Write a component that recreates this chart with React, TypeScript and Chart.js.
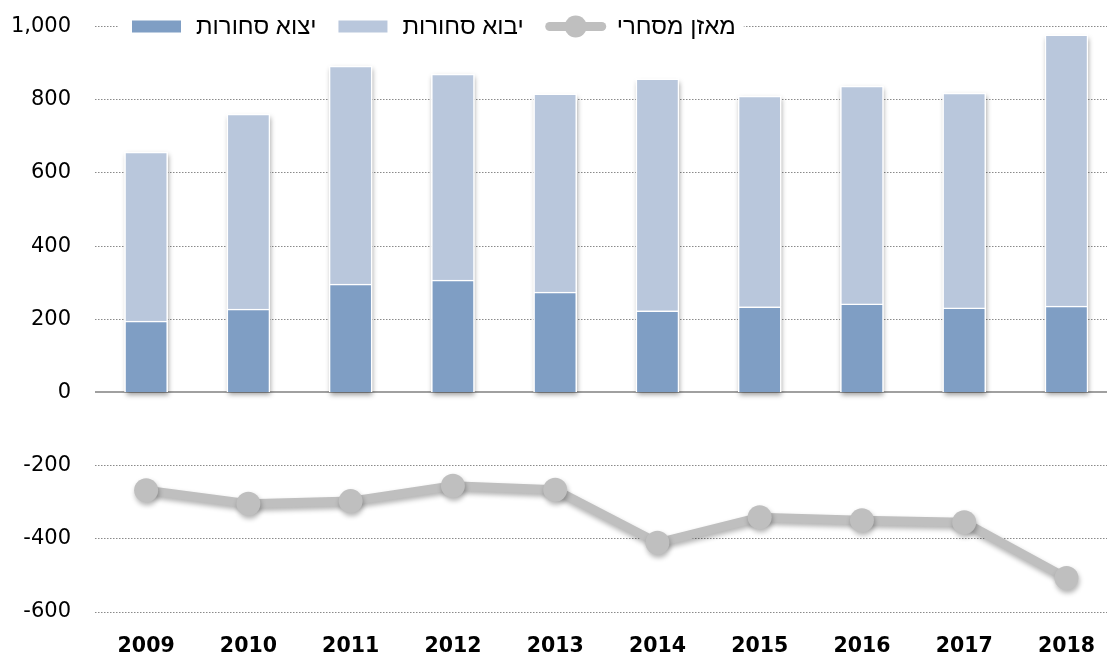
import React, { useEffect, useRef } from 'react';
import { Chart, registerables } from 'chart.js';

Chart.register(...registerables);

const years = ['2009', '2010', '2011', '2012', '2013', '2014', '2015', '2016', '2017', '2018'];
const exportsData = [195, 228, 296, 307, 274, 223, 234, 242, 231, 236];
const importsData = [462, 533, 596, 563, 542, 634, 576, 595, 587, 741];
const balanceData = [-267, -304, -297, -255, -266, -411, -341, -349, -355, -507];
const seriesLabels = ['יצוא סחורות', 'יבוא סחורות', 'מאזן מסחרי'];
const yMin = -600;
const yMax = 1000;
const yStep = 200;

const COL_EXPORT = '#7f9ec4';
const COL_IMPORT = '#b9c7dc';
const COL_BAL = '#bfbfbf';
const GRID = '#8a8a8a';
const FONT = '"DejaVu Sans", sans-serif';
const LEGEND_FONT = '"Liberation Sans", Arial, sans-serif';

const shadowPlugin = {
  id: 'barShadow',
  beforeDatasetsDraw(chart: any) {
    const ctx = chart.ctx;
    const y = chart.scales.y;
    ctx.save();
    ctx.strokeStyle = '#a0a0a0';
    ctx.lineWidth = 2;
    const y0 = Math.round(y.getPixelForValue(0));
    ctx.beginPath();
    ctx.moveTo(chart.chartArea.left, y0);
    ctx.lineTo(chart.chartArea.right, y0);
    ctx.stroke();
    ctx.restore();
    const mExp = chart.getDatasetMeta(0);
    const mImp = chart.getDatasetMeta(1);
    ctx.save();
    ctx.shadowColor = 'rgba(0,0,0,0.38)';
    ctx.shadowBlur = 5;
    ctx.shadowOffsetX = 1;
    ctx.shadowOffsetY = 3;
    ctx.fillStyle = '#ffffff';
    mImp.data.forEach((el: any, i: number) => {
      const base = mExp.data[i].base;
      const w = el.width;
      ctx.fillRect(el.x - w / 2, el.y, w, base - el.y);
    });
    ctx.restore();
  },
  beforeDatasetDraw(chart: any, args: any) {
    if (args.index === 2) {
      const ctx = chart.ctx;
      ctx.save();
      ctx.shadowColor = 'rgba(0,0,0,0.3)';
      ctx.shadowBlur = 5;
      ctx.shadowOffsetX = 1;
      ctx.shadowOffsetY = 3;
    }
  },
  afterDatasetDraw(chart: any, args: any) {
    if (args.index === 2) chart.ctx.restore();
  },
  afterDraw(chart: any) {
    const ctx = chart.ctx;
    const cy = chart.scales.y.getPixelForValue(yMax);
    ctx.save();
    ctx.font = '24px ' + LEGEND_FONT;
    const boxW = 49;
    const gapBT = 15;
    const gapItem = 22;
    const start = 132;
    const widths = seriesLabels.map((t) => ctx.measureText(t).width);
    let total = 0;
    widths.forEach((w, i) => {
      total += (i === 2 ? 60 : boxW) + gapBT + w + (i < 2 ? gapItem : 0);
    });
    ctx.fillStyle = '#ffffff';
    ctx.fillRect(start - 14, cy - 14, total + 14 + 4, 28);
    let x = start;
    const colors = [COL_EXPORT, COL_IMPORT];
    for (let i = 0; i < 3; i++) {
      if (i < 2) {
        ctx.fillStyle = colors[i];
        ctx.fillRect(x, cy - 6, boxW, 12);
        x += boxW + gapBT;
      } else {
        ctx.save();
        ctx.strokeStyle = COL_BAL;
        ctx.lineWidth = 9;
        ctx.lineCap = 'round';
        ctx.beginPath();
        ctx.moveTo(x + 4, cy);
        ctx.lineTo(x + 56, cy);
        ctx.stroke();
        ctx.fillStyle = COL_BAL;
        ctx.beginPath();
        ctx.arc(x + 30, cy, 11, 0, Math.PI * 2);
        ctx.fill();
        ctx.restore();
        x += 60 + gapBT - 4;
      }
      ctx.fillStyle = '#000000';
      ctx.textAlign = 'left';
      ctx.textBaseline = 'middle';
      ctx.fillText(seriesLabels[i], x, cy + 1);
      x += widths[i] + gapItem;
    }
    ctx.restore();
  },
};

function zeroPad(scale: any) {
  scale.paddingTop = 0;
  scale.paddingBottom = 0;
  scale.paddingLeft = 0;
  scale.paddingRight = 0;
}

function TradeChart() {
  const ref = useRef<HTMLCanvasElement | null>(null);
  useEffect(() => {
    if (!ref.current) return;
    const chart = new Chart(ref.current, {
      type: 'bar',
      data: {
        labels: years,
        datasets: [
          {
            type: 'bar',
            label: seriesLabels[0],
            data: exportsData,
            backgroundColor: COL_EXPORT,
            borderColor: '#ffffff',
            borderWidth: 1.5,
            barThickness: 43,
            stack: 'trade',
            order: 2,
          },
          {
            type: 'bar',
            label: seriesLabels[1],
            data: importsData,
            backgroundColor: COL_IMPORT,
            borderColor: '#ffffff',
            borderWidth: 1.5,
            barThickness: 43,
            stack: 'trade',
            order: 3,
          },
          {
            type: 'line',
            label: seriesLabels[2],
            data: balanceData,
            borderColor: COL_BAL,
            backgroundColor: COL_BAL,
            borderWidth: 9,
            pointRadius: 12,
            pointBorderWidth: 0,
            pointBackgroundColor: COL_BAL,
            tension: 0,
            stack: 'bal',
            order: 1,
            clip: false,
          } as any,
        ],
      },
      options: {
        animation: false,
        responsive: false,
        devicePixelRatio: 1,
        layout: { autoPadding: false, padding: { top: 26.5, right: 2.4, left: 0, bottom: 0 } },
        plugins: {
          legend: { display: false },
          tooltip: { enabled: false },
        },
        scales: {
          x: {
            stacked: true,
            grid: { display: false, drawTicks: false },
            border: { display: false },
            ticks: {
              color: '#000000',
              font: { family: FONT, size: 20.5, weight: 'bold' },
              padding: 22,
              maxRotation: 0,
            },
            afterFit(scale: any) {
              scale.height = 41;
              zeroPad(scale);
            },
          },
          y: {
            stacked: true,
            min: yMin,
            max: yMax,
            border: { display: false, dash: [1.5, 1.5] },
            grid: {
              drawTicks: false,
              lineWidth: 1,
              color: (c: any) => (c.tick && c.tick.value === 0 ? 'rgba(0,0,0,0)' : GRID),
            },
            ticks: {
              stepSize: yStep,
              color: '#000000',
              padding: 24,
              font: { family: FONT, size: 21 },
              callback: (v: any) => Number(v).toLocaleString('en-US'),
            },
            afterFit(scale: any) {
              scale.width = 95;
              zeroPad(scale);
            },
          },
        },
      },
      plugins: [shadowPlugin],
    });
    return () => chart.destroy();
  }, []);
  return <canvas ref={ref} width={1120} height={653} style={{ display: 'block' }} />;
}

export default function App() {
  return (
    <div style={{ position: 'fixed', left: 0, top: 0, width: '1107px', height: '653px', overflow: 'hidden', background: '#ffffff' }}>
      <div style={{ width: '1120px', height: '653px' }}>
        <TradeChart />
      </div>
    </div>
  );
}
